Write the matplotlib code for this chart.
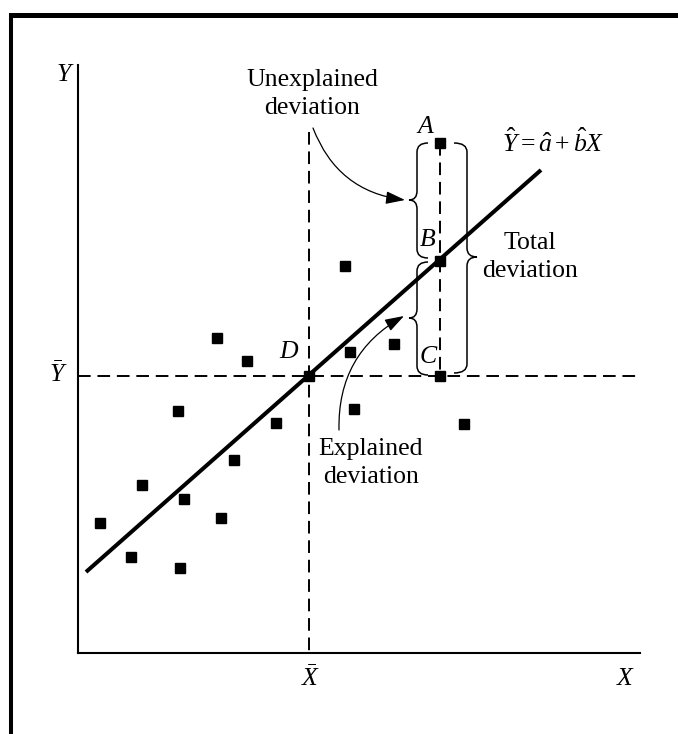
import numpy as np
import matplotlib
matplotlib.use("Agg")
import matplotlib.pyplot as plt
from matplotlib.path import Path
from matplotlib.patches import PathPatch

plt.rcParams['font.family'] = ['Liberation Serif', 'DejaVu Serif']
plt.rcParams['mathtext.fontset'] = 'custom'
plt.rcParams['mathtext.rm'] = 'Liberation Serif'
plt.rcParams['mathtext.it'] = 'Liberation Serif:italic'

# scatter points (x, y), origin at the axes corner
pts_x = [22, 53, 64, 100, 102, 106, 139, 143, 156, 169, 198, 231,
         267, 272, 276, 316, 362, 362, 362, 386]
pts_y = [130, 96, 168, 242, 85, 154, 315, 135, 193, 292, 230, 277,
         387, 301, 244, 309, 510, 392, 277, 229]

# fitted line end points
line_x = [8, 463]
line_y = [81, 483]

# means and the highlighted observation
x_mean, y_mean = 231, 277
x_obs, y_obs_a, y_obs_b = 362, 510, 392

x_max, y_max = 562, 588

fig = plt.figure(figsize=(6.78, 7.34), dpi=100)
ax = fig.add_axes([0, 0, 1, 1])
ax.set_xlim(-78, 600)
ax.set_ylim(-81, 653)
ax.axis('off')

# frame around the picture (top and left only)
ax.plot([-67, 600], [638.5, 638.5], color='black', lw=3.6, solid_capstyle='butt')
ax.plot([-67, -67], [640.5, -81], color='black', lw=2.9, solid_capstyle='butt')

# axes
ax.plot([0, 0], [0, y_max], color='black', lw=1.5)
ax.plot([0, x_max], [0, 0], color='black', lw=1.5)

dash = (0, (6.5, 3.5))
ax.plot([0, 558], [y_mean, y_mean], color='black', lw=1.4, linestyle=dash)
ax.plot([x_mean, x_mean], [521, 0], color='black', lw=1.4, linestyle=dash)
ax.plot([x_obs, x_obs], [y_obs_a, y_mean], color='black', lw=1.4, linestyle=dash)

# regression line
ax.plot(line_x, line_y, color='black', lw=2.9, solid_capstyle='butt')

# points
ax.plot(pts_x, pts_y, 's', color='black', markersize=7.3, zorder=5)


def brace(x0, y_top, y_bot, y_tip, tip_dx, end_dx, r=9):
    verts = [(x0 + end_dx, y_top), (x0, y_top), (x0, y_top - r),
             (x0, y_tip + r),
             (x0, y_tip), (x0 + tip_dx, y_tip),
             (x0, y_tip), (x0, y_tip - r),
             (x0, y_bot + r),
             (x0, y_bot), (x0 + end_dx, y_bot)]
    codes = [Path.MOVETO, Path.CURVE3, Path.CURVE3,
             Path.LINETO,
             Path.CURVE3, Path.CURVE3,
             Path.CURVE3, Path.CURVE3,
             Path.LINETO,
             Path.CURVE3, Path.CURVE3]
    ax.add_patch(PathPatch(Path(verts, codes), fill=False, lw=1.1, color='black'))


brace(339, 510, 395, 453, -8, 11)
brace(339, 391, 278, 335, -8, 11)
brace(389, 510, 280, 396, 10, -13)

arrow = dict(arrowstyle='-|>,head_length=0.9,head_width=0.3', color='black',
             lw=0.9, shrinkA=0, shrinkB=0, mutation_scale=13)
ax.annotate('', xy=(327, 453), xytext=(235, 525),
            arrowprops=dict(arrow, connectionstyle='arc3,rad=0.3'))
ax.annotate('', xy=(326, 337), xytext=(261, 223),
            arrowprops=dict(arrow, connectionstyle='arc3,rad=-0.3'))

fs = 18.5
ax.text(-14, 578, 'Y', fontsize=fs, style='italic', ha='center', va='center')
ax.text(-20, 279, r'$\bar{Y}$', fontsize=fs, ha='center', va='center')
ax.text(233, -25, r'$\bar{X}$', fontsize=fs, ha='center', va='center')
ax.text(547, -26, 'X', fontsize=fs, style='italic', ha='center', va='center')
ax.text(234, 559, 'Unexplained\ndeviation', fontsize=fs, ha='center', va='center',
        linespacing=1.3)
ax.text(293, 190, 'Explained\ndeviation', fontsize=fs, ha='center', va='center',
        linespacing=1.3)
ax.text(452, 396, 'Total\ndeviation', fontsize=fs, ha='center', va='center',
        linespacing=1.3)
ax.text(347, 526, 'A', fontsize=fs, style='italic', ha='center', va='center')
ax.text(350, 413, 'B', fontsize=fs, style='italic', ha='center', va='center')
ax.text(350, 296, 'C', fontsize=fs, style='italic', ha='center', va='center')
ax.text(211, 301, 'D', fontsize=fs, style='italic', ha='center', va='center')
ax.text(475, 510, r'$\hat{Y} = \hat{a} + \hat{b}X$', fontsize=fs, ha='center', va='center')

fig.savefig('out.png', dpi=100)
